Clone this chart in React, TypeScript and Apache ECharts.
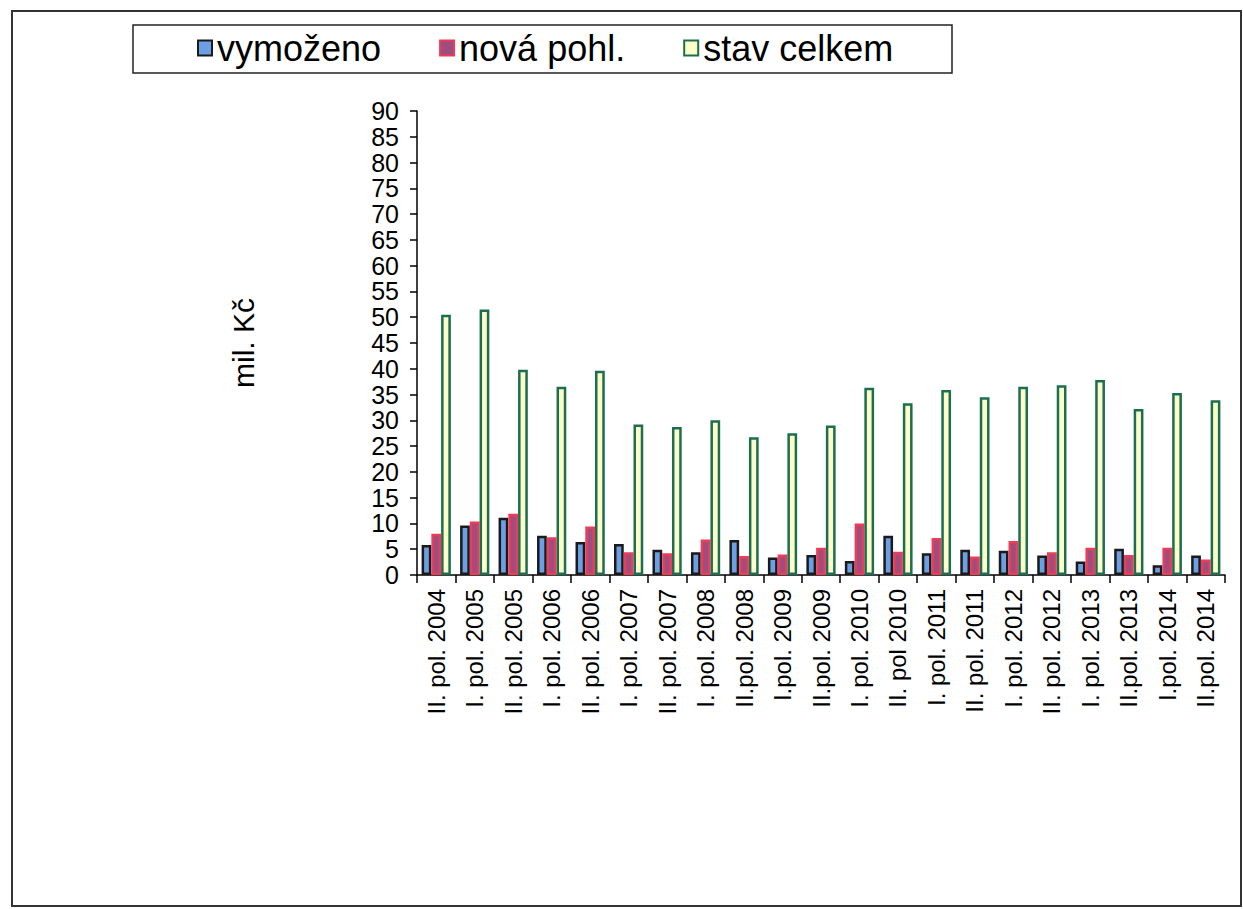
import React, { useEffect, useRef } from "react";
import * as echarts from "echarts";

const categories = [
  "II. pol. 2004", "I. pol. 2005", "II. pol. 2005", "I. pol. 2006", "II. pol. 2006",
  "I. pol. 2007", "II. pol. 2007", "I. pol. 2008", "II.pol. 2008", "I.pol. 2009",
  "II.pol. 2009", "I. pol. 2010", "II. pol 2010", "I. pol. 2011", "II. pol. 2011",
  "I. pol. 2012", "II. pol. 2012", "I. pol. 2013", "II.pol. 2013", "I.pol. 2014",
  "II.pol. 2014",
];
const vymozeno = [5.8, 9.6, 11.1, 7.6, 6.4, 6.0, 4.9, 4.4, 6.8, 3.4, 3.9, 2.7, 7.6, 4.2, 4.9, 4.7, 3.8, 2.6, 5.1, 1.9, 3.8];
const novaPohl = [8.0, 10.4, 11.9, 7.3, 9.4, 4.4, 4.2, 6.9, 3.7, 4.0, 5.3, 10.0, 4.5, 7.2, 3.6, 6.6, 4.4, 5.3, 3.9, 5.3, 3.0];
const stavCelkem = [50.5, 51.5, 39.8, 36.5, 39.6, 29.2, 28.7, 30.0, 26.7, 27.5, 29.0, 36.3, 33.3, 35.9, 34.5, 36.5, 36.8, 37.8, 32.2, 35.3, 33.9];
const seriesNames = ["vymoženo", "nová pohl.", "stav celkem"];
const axisTitle = "mil. Kč";

const FONT = "'Liberation Sans', Arial, sans-serif";

const styles = [
  { color: "#6c9fe3", borderColor: "#1a1a1a" },
  { color: "#9e4d80", borderColor: "#ec3c58" },
  { color: "#ffffc8", borderColor: "#1b6e52" },
];

export default function App() {
  const ref = useRef<HTMLDivElement>(null);
  useEffect(() => {
    const chart = echarts.init(ref.current!, null, { renderer: "svg" });
    const dataSets = [vymozeno, novaPohl, stavCelkem];
    chart.setOption({
      animation: false,
      backgroundColor: "#ffffff",
      textStyle: { fontFamily: FONT },
      grid: { left: 417, right: 18, top: 111, bottom: 334, containLabel: false },
      legend: {
        left: 197,
        top: 30,
        padding: 0,
        itemGap: 58,
        itemWidth: 14,
        itemHeight: 15,
        icon: "rect",
        textStyle: { fontSize: 36, color: "#000", fontFamily: FONT },
        data: seriesNames.map((n, i) => ({
          name: n,
          itemStyle: { color: styles[i].color, borderColor: styles[i].borderColor, borderWidth: 2 },
        })),
      },
      xAxis: {
        type: "category",
        data: categories,
        boundaryGap: true,
        axisLine: { lineStyle: { color: "#000", width: 1.5 } },
        axisTick: { show: true, interval: 0, alignWithLabel: false, length: 8, lineStyle: { color: "#000", width: 1.5 } },
        axisLabel: { interval: 0, rotate: 90, margin: 14, fontSize: 24, color: "#000", fontFamily: FONT },
        splitLine: { show: false },
      },
      yAxis: {
        type: "value",
        min: 0,
        max: 90,
        interval: 5,
        axisLine: { show: true, lineStyle: { color: "#000", width: 1.5 } },
        axisTick: { show: true, inside: false, length: 7, lineStyle: { color: "#000", width: 1.5 } },
        axisLabel: {
          margin: 18,
          fontSize: 25,
          lineHeight: 24,
          color: "#000",
          fontFamily: FONT,
          showMinLabel: true,
          showMaxLabel: true,
          hideOverlap: false,
        },
        splitLine: { show: false },
      },
      series: seriesNames.map((n, i) => ({
        name: n,
        type: "bar",
        data: dataSets[i],
        barGap: "0%",
        barCategoryGap: "24%",
        itemStyle: { color: styles[i].color, borderColor: styles[i].borderColor, borderWidth: 2.5 },
      })),
      graphic: [
        {
          type: "rect",
          shape: { x: 12, y: 11, width: 1229, height: 895 },
          style: { fill: "none", stroke: "#333", lineWidth: 2 },
          silent: true,
        },
        {
          type: "rect",
          shape: { x: 133, y: 25, width: 819, height: 48 },
          style: { fill: "none", stroke: "#222", lineWidth: 1.5 },
          silent: true,
        },
        {
          type: "text",
          x: 243,
          y: 343,
          rotation: Math.PI / 2,
          style: {
            text: axisTitle,
            fontSize: 30,
            fontFamily: FONT,
            fill: "#000",
            textAlign: "center",
            textVerticalAlign: "middle",
          },
        },
      ],
    });
    return () => chart.dispose();
  }, []);
  return (
    <div
      ref={ref}
      style={{ position: "absolute", left: 0, top: 0, width: 1243, height: 909, background: "#fff" }}
    />
  );
}
